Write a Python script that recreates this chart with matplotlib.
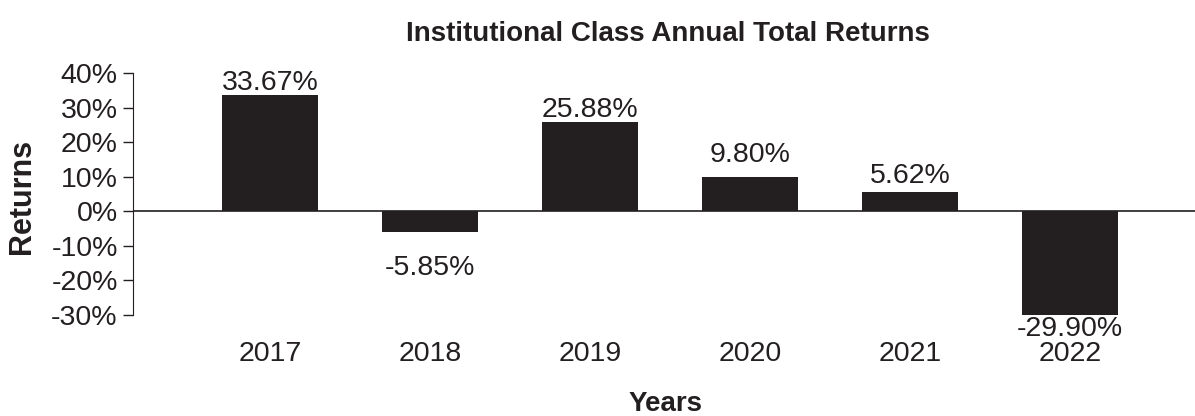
import matplotlib
matplotlib.use("Agg")
import matplotlib.pyplot as plt

years = ["2017", "2018", "2019", "2020", "2021", "2022"]
returns = [33.67, -5.85, 25.88, 9.80, 5.62, -29.90]
# label offsets in points (positive up)
label_offsets = [-1, -17, -1, 7, 2, -1]

ink = "#231f20"
plt.rcParams["font.family"] = ["Liberation Sans", "DejaVu Sans"]

fig = plt.figure(figsize=(11.95, 4.16), dpi=100)
ax = fig.add_axes([0.1113, 0.2428, 0.8887, 0.5817])

x = range(len(years))
ax.bar(x, returns, width=0.6, color=ink)
ax.axhline(0, color=ink, lw=1.2)

for i, v in enumerate(returns):
    txt = f"{v:.2f}%"
    va = "bottom" if v >= 0 else "top"
    ax.annotate(txt, (i, v), xytext=(0, label_offsets[i]), textcoords="offset points",
                ha="center", va=va, fontsize=20.5, color=ink)

ax.set_xlim(-0.856, 5.78)
ax.set_ylim(-30, 40)
ax.set_yticks(range(-30, 41, 10))
ax.set_yticklabels([f"{t}%" for t in range(-30, 41, 10)])
ax.set_xticks(list(x))
ax.set_xticklabels(years)
ax.tick_params(axis="x", length=0, pad=19, labelsize=20.5, colors=ink)
ax.tick_params(axis="y", length=7, width=1, pad=4, labelsize=20.5, colors=ink)
for s in ["top", "right", "bottom"]:
    ax.spines[s].set_visible(False)
ax.spines["left"].set_color(ink)

fig.text(0.559, 0.918, "Institutional Class Annual Total Returns", ha="center", va="center",
         fontsize=20, fontweight="bold", color=ink)
fig.text(0.557, 0.028, "Years", ha="center", va="center", fontsize=20, fontweight="bold", color=ink)
fig.text(0.018, 0.527, "Returns", ha="center", va="center", rotation=90,
         fontsize=22, fontweight="bold", color=ink)

fig.savefig("out.png", dpi=100)
